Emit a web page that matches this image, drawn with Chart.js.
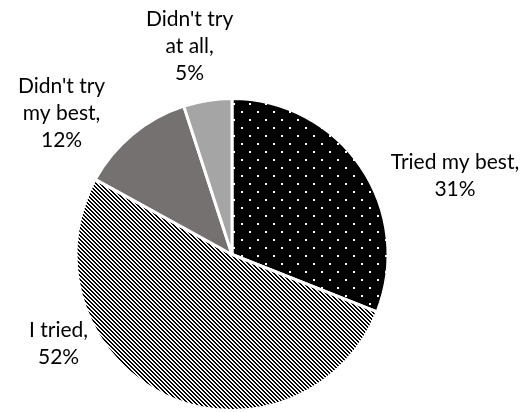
<!DOCTYPE html>
<html lang="en">
<head>
  <meta charset="UTF-8">
  <title>Effort pie</title>
  <script src="https://cdn.jsdelivr.net/npm/chart.js"></script>
  <style>
    html, body { margin: 0; padding: 0; background: #fff; }
    #wrap { width: 523px; height: 412px; }
  </style>
</head>
<body>
  <div id="wrap"><canvas id="effortChart" width="523" height="412"></canvas></div>

  <script>
    // categories and their shares (percent)
    const categories = ['Tried my best', 'I tried', "Didn't try my best", "Didn't try at all"];
    const shares = [31, 52, 12, 5];
    // how each category name wraps in its data label
    const labelLines = [
      ['Tried my best,'],
      ['I tried,'],
      ["Didn't try", 'my best,'],
      ["Didn't try", 'at all,']
    ];

    // black with a staggered grid of white dots
    function dotPattern() {
      const c = document.createElement('canvas');
      c.width = 16; c.height = 16;
      const g = c.getContext('2d');
      g.fillStyle = '#000';
      g.fillRect(0, 0, 16, 16);
      g.fillStyle = '#fff';
      g.fillRect(9, 7, 2, 2);
      g.fillRect(1, 15, 2, 1);
      g.fillRect(1, 0, 2, 1);
      return g.createPattern(c, 'repeat');
    }

    // narrow black/white downward diagonal stripes
    function stripePattern() {
      const c = document.createElement('canvas');
      c.width = 4; c.height = 4;
      const g = c.getContext('2d');
      g.fillStyle = '#fff';
      g.fillRect(0, 0, 4, 4);
      g.fillStyle = '#000';
      for (let y = 0; y < 4; y++) {
        for (let x = 0; x < 4; x++) {
          if (((x - y) % 4 + 4) % 4 < 2) g.fillRect(x, y, 1, 1);
        }
      }
      return g.createPattern(c, 'repeat');
    }

    // text labels placed next to each slice (offsets from the slice's outer midpoint)
    const sliceLabels = {
      id: 'sliceLabels',
      afterDatasetsDraw(chart, args, opts) {
        const ctx = chart.ctx;
        const meta = chart.getDatasetMeta(0);
        ctx.save();
        ctx.font = opts.font;
        ctx.fillStyle = '#000';
        ctx.textAlign = 'center';
        ctx.textBaseline = 'middle';
        meta.data.forEach((arc, i) => {
          const mid = (arc.startAngle + arc.endAngle) / 2;
          const px = arc.x + Math.cos(mid) * arc.outerRadius;
          const py = arc.y + Math.sin(mid) * arc.outerRadius;
          const lines = labelLines[i].concat([shares[i] + '%']);
          const off = opts.offsets[i];
          const cx = px + off[0];
          const cy = py + off[1];
          const top = cy - (lines.length - 1) * opts.lineHeight / 2;
          lines.forEach((t, k) => ctx.fillText(t, cx, top + k * opts.lineHeight));
        });
        ctx.restore();
      }
    };

    const ctx = document.getElementById('effortChart').getContext('2d');
    new Chart(ctx, {
      type: 'pie',
      data: {
        labels: categories,
        datasets: [{
          data: shares,
          backgroundColor: [dotPattern(), stripePattern(), '#767171', '#a5a5a5'],
          borderColor: '#fff',
          borderWidth: 3
        }]
      },
      options: {
        responsive: false,
        animation: false,
        layout: { padding: { left: 74, top: 97, right: 133, bottom: 0 } },
        plugins: {
          legend: { display: false },
          tooltip: { enabled: false },
          sliceLabels: {
            font: '21px Lato',
            lineHeight: 27,
            offsets: [[94, 9], [-107, -52], [-71, -21], [-18, -54]]
          }
        }
      },
      plugins: [sliceLabels]
    });
  </script>
</body>
</html>
